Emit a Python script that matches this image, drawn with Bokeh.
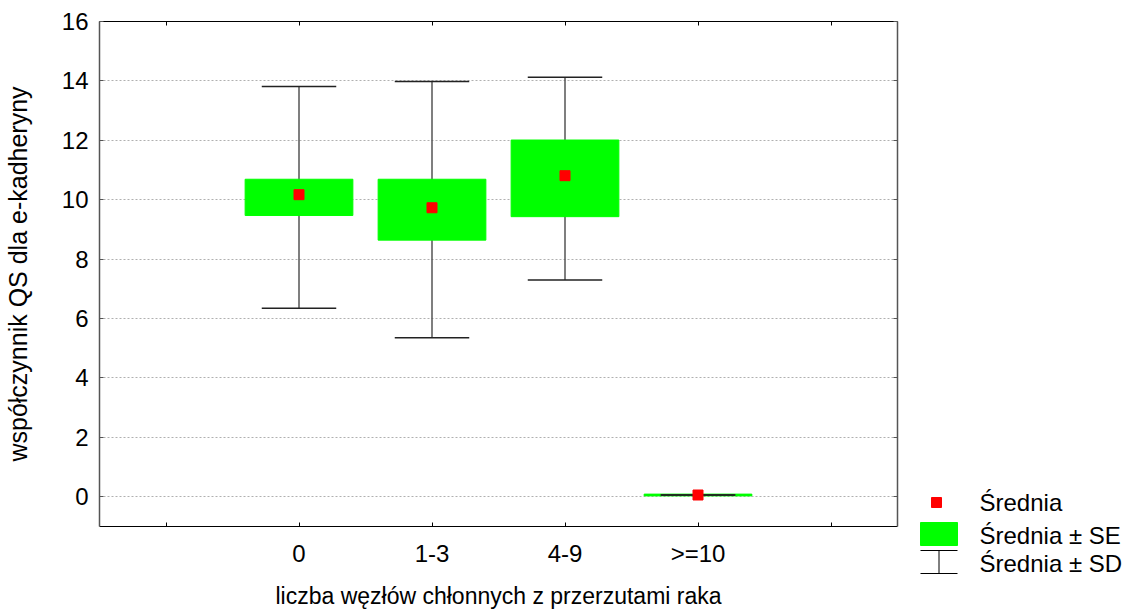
from bokeh.plotting import figure
from bokeh.models import LinearAxis, FixedTicker, Range1d
from bokeh.layouts import row, column
from bokeh.core.properties import value
from bokeh.embed import file_html
from bokeh.resources import INLINE

# ---- data ----
categories = ["0", "1-3", "4-9", ">=10"]
means = [10.17, 9.73, 10.81, 0.06]
se_low = [9.47, 8.64, 9.43, 0.03]
se_high = [10.69, 10.69, 12.01, 0.09]
sd_low = [6.35, 5.35, 7.30, 0.06]
sd_high = [13.81, 13.98, 14.12, 0.06]
y_ticks = [0, 2, 4, 6, 8, 10, 12, 14, 16]
legend_labels = ["Średnia", "Średnia ± SE", "Średnia ± SD"]
x_title = "liczba węzłów chłonnych z przerzutami raka"
y_title = "współczynnik QS dla e-kadheryny"

FONT = "Liberation Sans"
TICK_FS = "24px"
XTITLE_FS = "23px"
YTITLE_FS = "25px"
LEG_FS = "24px"

xs = [i + 1 for i in range(len(categories))]
x_ticks = list(range(len(categories) + 2))
box_half = 0.405
cap_half = 0.28

p = figure(width=900, height=612, x_range=Range1d(-0.5, len(categories) + 1.5),
           y_range=Range1d(-1, 16), output_backend="svg", toolbar_location=None,
           min_border_left=97, min_border_right=3, min_border_top=21, min_border_bottom=86)
p.background_fill_color = "white"
p.border_fill_color = "white"
p.outline_line_color = None

# bottom axis
xa = p.xaxis[0]
xa.ticker = FixedTicker(ticks=x_ticks)
overrides = {t: "" for t in x_ticks}
for x, c in zip(xs, categories):
    overrides[x] = c
xa.major_label_overrides = overrides
xa.major_tick_in = 4
xa.major_tick_out = 0
xa.minor_tick_line_color = None
xa.axis_line_color = "black"
xa.major_tick_line_color = "black"
xa.major_label_text_font = FONT
xa.major_label_text_font_size = TICK_FS
xa.major_label_text_color = "black"
xa.major_label_standoff = 13
xa.axis_label = x_title
xa.axis_label_text_font = FONT
xa.axis_label_text_font_size = XTITLE_FS
xa.axis_label_text_font_style = "normal"
xa.axis_label_text_color = "black"
xa.axis_label_standoff = 13

# left axis
ya = p.yaxis[0]
ya.ticker = FixedTicker(ticks=y_ticks)
ya.major_tick_in = 4
ya.major_tick_out = 0
ya.minor_tick_line_color = None
ya.axis_line_color = "#555555"
ya.axis_line_width = 1.5
ya.major_tick_line_color = "#555555"
ya.major_label_text_font = FONT
ya.major_label_text_font_size = TICK_FS
ya.major_label_text_color = "black"
ya.major_label_standoff = 11
ya.axis_label = y_title
ya.axis_label_text_font = FONT
ya.axis_label_text_font_size = YTITLE_FS
ya.axis_label_text_font_style = "normal"
ya.axis_label_text_color = "black"
ya.axis_label_standoff = 27

# top and right frame axes (ticks only)
top = LinearAxis(ticker=FixedTicker(ticks=x_ticks),
                 major_label_overrides={t: "" for t in x_ticks},
                 major_label_text_font_size="1px", major_label_standoff=0,
                 major_tick_in=4, major_tick_out=0, minor_tick_line_color=None,
                 axis_line_color="black", major_tick_line_color="black")
p.add_layout(top, "above")
right = LinearAxis(ticker=FixedTicker(ticks=y_ticks),
                   major_label_overrides={t: "" for t in y_ticks},
                   major_label_text_font_size="1px", major_label_standoff=0,
                   major_tick_in=4, major_tick_out=0, minor_tick_line_color=None,
                   axis_line_color="#555555", axis_line_width=1.5,
                   major_tick_line_color="#555555")
p.add_layout(right, "right")

p.xgrid.visible = False
p.ygrid.ticker = FixedTicker(ticks=y_ticks[:-1])
p.ygrid.grid_line_color = "#b0b0b0"
p.ygrid.grid_line_dash = "2 2"
p.ygrid.grid_line_width = 1

# SD stems
p.segment(x0=xs, y0=sd_low, x1=xs, y1=sd_high, line_color="#555555", line_width=1.5)
# SE boxes
p.quad(left=[x - box_half for x in xs], right=[x + box_half for x in xs],
       bottom=se_low, top=se_high, fill_color="#00ff00", line_color="#00ff00", line_width=1)
# SD caps
p.segment(x0=[x - cap_half for x in xs], x1=[x + cap_half for x in xs], y0=sd_low, y1=sd_low,
          line_color="#222222", line_width=1.5)
p.segment(x0=[x - cap_half for x in xs], x1=[x + cap_half for x in xs], y0=sd_high, y1=sd_high,
          line_color="#222222", line_width=1.5)
# means
p.scatter(x=xs, y=means, marker="square", size=10, fill_color="#ff0000", line_color="#ff0000", line_width=1)

# ---- legend panel (own pixel-space ranges) ----
leg = figure(width=239, height=612, x_range=Range1d(0, 239), y_range=Range1d(612, 0),
             output_backend="svg", toolbar_location=None, min_border=0,
             min_border_left=0, min_border_right=0, min_border_top=0, min_border_bottom=0,
             x_axis_location=None, y_axis_location=None)
leg.outline_line_color = None
leg.grid.visible = False
leg.background_fill_color = "white"
leg.border_fill_color = "white"

leg.scatter(x=[36], y=[502], marker="square", size=10, fill_color="#ff0000", line_color="#ff0000", line_width=1)
leg.quad(left=[20], right=[57], top=[522], bottom=[545], fill_color="#00ff00", line_color="#00ff00")
leg.segment(x0=[20, 20, 38.5], y0=[550, 573, 550], x1=[57, 57, 38.5], y1=[550, 573, 573],
            line_color="black", line_width=1)
leg.text(x=[79, 79, 79], y=[502, 535, 563], text=legend_labels, text_baseline="middle",
         text_align="left", text_font=value(FONT), text_font_size=LEG_FS, text_color="black")

layout = row(p, column(leg))
open("out.html", "w").write(file_html(layout, INLINE))
